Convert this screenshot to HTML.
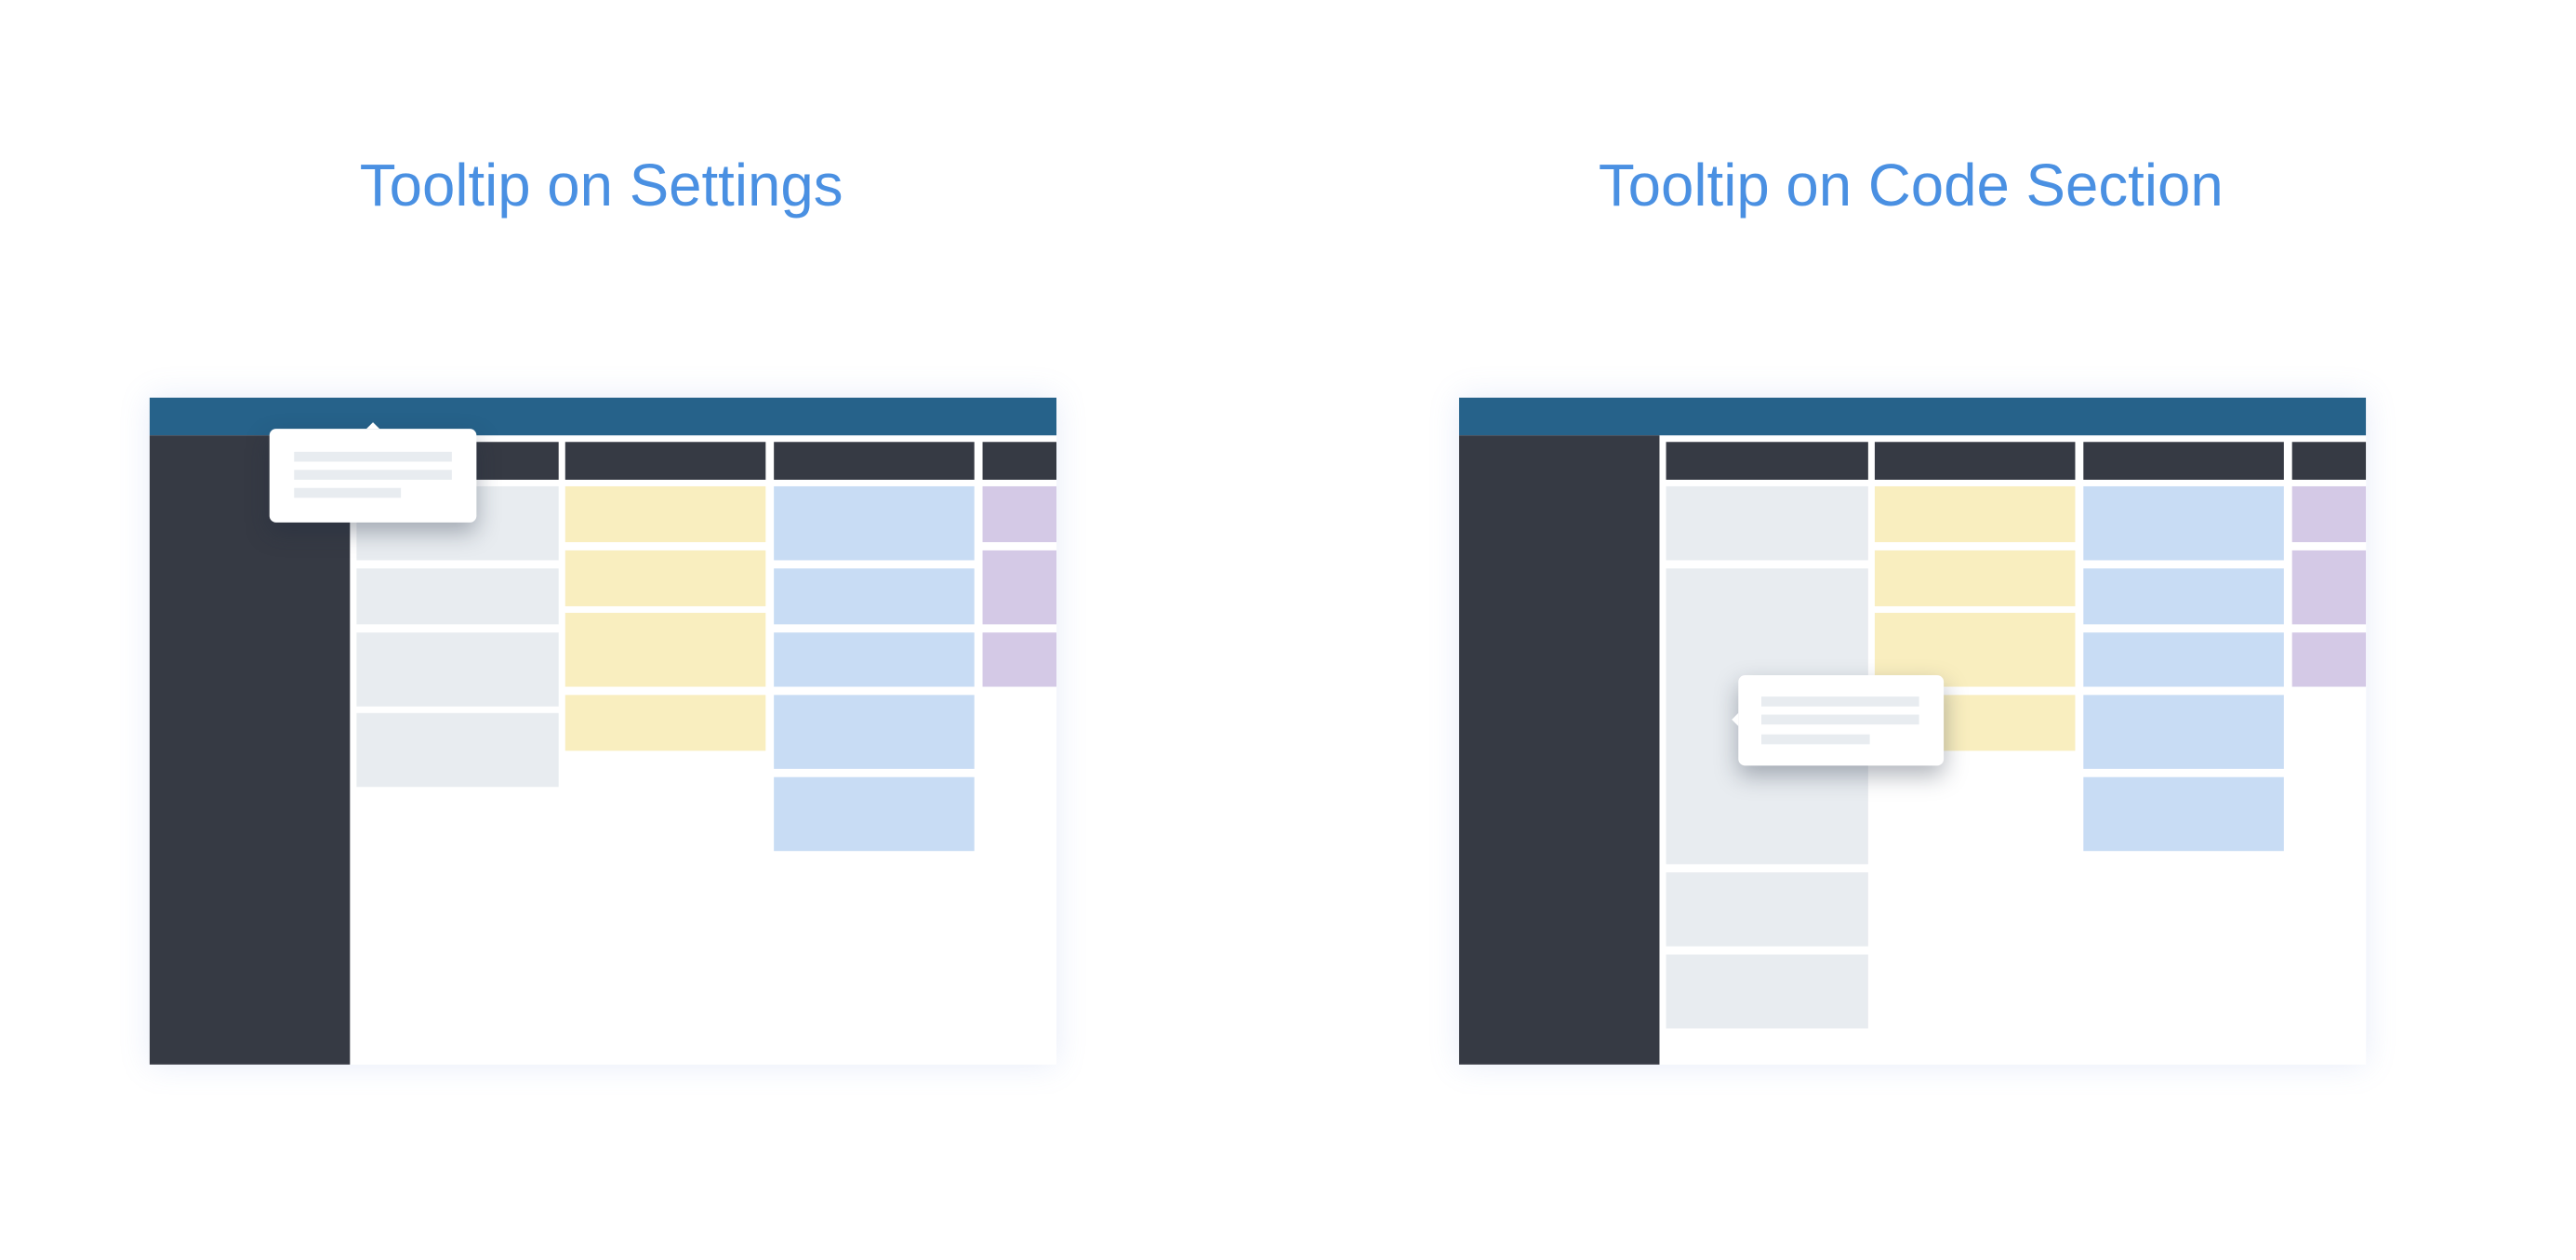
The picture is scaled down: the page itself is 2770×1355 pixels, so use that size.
<!DOCTYPE html>
<html><head><meta charset="utf-8">
<style>
html,body{margin:0;padding:0;background:#fff;overflow:hidden;width:2770px;height:1354px}
#s{position:absolute;left:0;top:0;width:1568px;height:767px;transform:scale(1.7668);transform-origin:0 0;font-family:"Liberation Sans",sans-serif}
.a{position:absolute}
.t{position:absolute;top:92px;font-size:36px;color:#4a90e2;white-space:nowrap;text-align:center;width:600px}
.m{position:absolute;width:552px;height:406px;top:242px;background:#fff;box-shadow:0 0 18px rgba(120,150,220,0.18);overflow:hidden}
.hd{position:absolute;left:0;top:0;width:552px;height:23px;background:#26628a}
.sb{position:absolute;left:0;top:23px;width:122px;height:383px;background:#363a44}
.ch{position:absolute;top:27px;height:23px;background:#363a44}
.g{background:#e8ecf0}.y{background:#f9eebf}.b{background:#c8dcf4}.p{background:#d4c9e6}
.tt{position:absolute;background:#fff;border-radius:4px;box-shadow:0 6px 14px rgba(30,40,60,0.35)}
.ln{position:absolute;height:6px;background:#e8ecf0}
</style></head><body><div id="s">
<div class="t" style="left:66px">Tooltip on Settings</div>
<div class="t" style="left:863px">Tooltip on Code Section</div>

<!-- Left mockup -->
<div class="m" style="left:91px">
 <div class="hd"></div><div class="sb"></div>
 <div class="ch" style="left:126px;width:123px"></div>
 <div class="ch" style="left:253px;width:122px"></div>
 <div class="ch" style="left:380px;width:122px"></div>
 <div class="ch" style="left:507px;width:45px"></div>
 <div class="a g" style="left:126px;top:54px;width:123px;height:45px"></div>
 <div class="a g" style="left:126px;top:104px;width:123px;height:34px"></div>
 <div class="a g" style="left:126px;top:143px;width:123px;height:45px"></div>
 <div class="a g" style="left:126px;top:192px;width:123px;height:45px"></div>
 <div class="a y" style="left:253px;top:54px;width:122px;height:34px"></div>
 <div class="a y" style="left:253px;top:93px;width:122px;height:34px"></div>
 <div class="a y" style="left:253px;top:131px;width:122px;height:45px"></div>
 <div class="a y" style="left:253px;top:181px;width:122px;height:34px"></div>
 <div class="a b" style="left:380px;top:54px;width:122px;height:45px"></div>
 <div class="a b" style="left:380px;top:104px;width:122px;height:34px"></div>
 <div class="a b" style="left:380px;top:143px;width:122px;height:33px"></div>
 <div class="a b" style="left:380px;top:181px;width:122px;height:45px"></div>
 <div class="a b" style="left:380px;top:231px;width:122px;height:45px"></div>
 <div class="a p" style="left:507px;top:54px;width:45px;height:34px"></div>
 <div class="a p" style="left:507px;top:93px;width:45px;height:45px"></div>
 <div class="a p" style="left:507px;top:143px;width:45px;height:33px"></div>
</div>
<div class="tt" style="left:164px;top:261px;width:126px;height:57px">
 <div class="a" style="left:59px;top:-4px;width:0;height:0;border-left:4px solid transparent;border-right:4px solid transparent;border-bottom:4px solid #fff"></div>
 <div class="ln" style="left:15px;top:14px;width:96px"></div>
 <div class="ln" style="left:15px;top:25px;width:96px"></div>
 <div class="ln" style="left:15px;top:36px;width:65px"></div>
</div>

<!-- Right mockup -->
<div class="m" style="left:888px">
 <div class="hd"></div><div class="sb"></div>
 <div class="ch" style="left:126px;width:123px"></div>
 <div class="ch" style="left:253px;width:122px"></div>
 <div class="ch" style="left:380px;width:122px"></div>
 <div class="ch" style="left:507px;width:45px"></div>
 <div class="a g" style="left:126px;top:54px;width:123px;height:45px"></div>
 <div class="a g" style="left:126px;top:104px;width:123px;height:180px"></div>
 <div class="a g" style="left:126px;top:289px;width:123px;height:45px"></div>
 <div class="a g" style="left:126px;top:339px;width:123px;height:45px"></div>
 <div class="a y" style="left:253px;top:54px;width:122px;height:34px"></div>
 <div class="a y" style="left:253px;top:93px;width:122px;height:34px"></div>
 <div class="a y" style="left:253px;top:131px;width:122px;height:45px"></div>
 <div class="a y" style="left:253px;top:181px;width:122px;height:34px"></div>
 <div class="a b" style="left:380px;top:54px;width:122px;height:45px"></div>
 <div class="a b" style="left:380px;top:104px;width:122px;height:34px"></div>
 <div class="a b" style="left:380px;top:143px;width:122px;height:33px"></div>
 <div class="a b" style="left:380px;top:181px;width:122px;height:45px"></div>
 <div class="a b" style="left:380px;top:231px;width:122px;height:45px"></div>
 <div class="a p" style="left:507px;top:54px;width:45px;height:34px"></div>
 <div class="a p" style="left:507px;top:93px;width:45px;height:45px"></div>
 <div class="a p" style="left:507px;top:143px;width:45px;height:33px"></div>
</div>
<div class="tt" style="left:1058px;top:411px;width:125px;height:55px">
 <div class="a" style="left:-4px;top:23px;width:0;height:0;border-top:4px solid transparent;border-bottom:4px solid transparent;border-right:4px solid #fff"></div>
 <div class="ln" style="left:14px;top:13px;width:96px"></div>
 <div class="ln" style="left:14px;top:24px;width:96px"></div>
 <div class="ln" style="left:14px;top:36px;width:66px"></div>
</div>
</div></body></html>
